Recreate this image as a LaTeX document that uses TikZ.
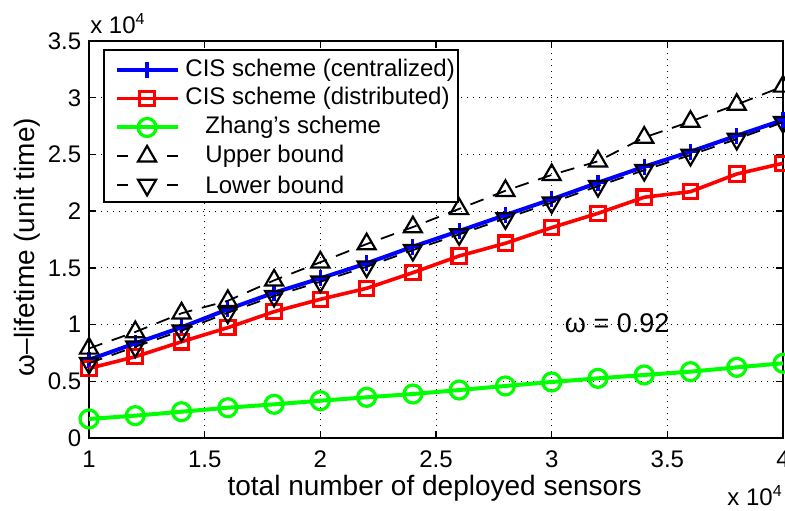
\documentclass[tikz,border=0pt]{standalone}
\usepackage{fontspec}
\setmainfont{Liberation Sans}
\usetikzlibrary{plotmarks}
\tikzset{
  every node/.style={inner sep=0pt, font=\fontsize{12}{14}\selectfont},
  gridline/.style={line width=0.5pt, dash pattern=on 0.6pt off 2.4pt},
  axisline/.style={line width=0.7pt},
  cen/.style={blue, line width=2pt, mark=+, mark size=4pt, mark options={solid, line width=1.6pt}},
  dis/.style={red, line width=1.8pt, mark=square, mark size=3.6pt, mark options={solid, line width=1.6pt}},
  zha/.style={green, line width=2pt, mark=o, mark size=4.5pt, mark options={solid, line width=1.6pt}},
  ub/.style={black, line width=0.9pt, dash pattern=on 7pt off 5pt, mark=triangle, mark size=5.2pt, mark options={solid, line width=1.1pt}},
  lb/.style={black, line width=0.9pt, dash pattern=on 7pt off 5pt, mark=triangle, mark size=5.2pt, mark options={solid, rotate=180, line width=1.1pt}},
  axlab/.style={font=\fontsize{14}{16}\selectfont}
}
\begin{document}
\begin{tikzpicture}[x=115.65pt, y=56.7pt]
  \useasboundingbox (0.6152,-0.635) rectangle (4.0086,3.862);
  % grid
  \foreach \v in {1.5,2,2.5,3,3.5}
    \draw[gridline] (\v,0) -- (\v,3.5);
  \foreach \v in {0.5,1,1.5,2,2.5,3}
    \draw[gridline] (1,\v) -- (4,\v);
  % axes box and ticks
  \draw[axisline] (1,0) rectangle (4,3.5);
  \foreach \v [count=\i] in {1,1.5,2,2.5,3,3.5,4} {
    \draw[axisline] (\v,0) -- ++(0,3.5pt) (\v,3.5) -- ++(0,-3.5pt);
    \node[anchor=base] (xt\i) at (\v,-0.256) {\v};
  }
  \foreach \v [count=\i] in {0,0.5,1,1.5,2,2.5,3,3.5} {
    \draw[axisline] (1,\v) -- ++(3.5pt,0) (4,\v) -- ++(-3.5pt,0);
    \node[anchor=east] (yt\i) at (0.968,\v) {\v};
  }
  \node[anchor=base west] (ymul) at (1.004,3.571) {x 10\textsuperscript{4}};
  \node[anchor=base west] (xmul) at (3.758,-0.591) {x 10\textsuperscript{4}};
  \node[axlab, anchor=base] (xlab) at (2.494,-0.503) {total number of deployed sensors};
  \node[axlab, rotate=90] (ylab) at (0.732,1.684) {ω–lifetime (unit time)};
  % data
  \draw[cen] plot coordinates {(1,0.69) (1.2,0.835) (1.4,0.976) (1.6,1.135) (1.8,1.281) (2,1.408) (2.2,1.54) (2.4,1.687) (2.6,1.825) (2.8,1.966) (3,2.105) (3.2,2.251) (3.4,2.392) (3.6,2.525) (3.8,2.666) (4,2.804)};
  \draw[dis] plot coordinates {(1,0.614) (1.2,0.717) (1.4,0.849) (1.6,0.973) (1.8,1.114) (2,1.223) (2.2,1.32) (2.4,1.458) (2.6,1.605) (2.8,1.717) (3,1.855) (3.2,1.981) (3.4,2.123) (3.6,2.172) (3.8,2.328) (4,2.422)};
  \draw[zha] plot coordinates {(1,0.168) (1.2,0.197) (1.4,0.232) (1.6,0.267) (1.8,0.297) (2,0.329) (2.2,0.359) (2.4,0.388) (2.6,0.423) (2.8,0.459) (3,0.494) (3.2,0.526) (3.4,0.556) (3.6,0.585) (3.8,0.623) (4,0.659)};
  \draw[ub] plot coordinates {(1,0.79) (1.2,0.935) (1.4,1.10) (1.6,1.21) (1.8,1.39) (2,1.55) (2.2,1.71) (2.4,1.86) (2.6,2.02) (2.8,2.18) (3,2.32) (3.2,2.44) (3.4,2.65) (3.6,2.79) (3.8,2.94) (4,3.10)};
  \draw[lb] plot coordinates {(1,0.66) (1.2,0.805) (1.4,0.946) (1.6,1.105) (1.8,1.251) (2,1.378) (2.2,1.51) (2.4,1.657) (2.6,1.795) (2.8,1.936) (3,2.075) (3.2,2.221) (3.4,2.362) (3.6,2.495) (3.8,2.636) (4,2.784)};
  \node[font=\fontsize{13.5}{16}\selectfont, anchor=base] (omega) at (3.283,0.926) {ω = 0.92};
  % legend
  \draw[axisline, fill=white] (1.0649,2.0811) rectangle (2.5953,3.4215);
  \draw[cen, mark indices={2}] plot coordinates {(1.121,3.245) (1.251,3.245) (1.385,3.245)};
  \draw[dis, mark indices={2}] plot coordinates {(1.121,2.992) (1.251,2.992) (1.385,2.992)};
  \draw[zha, mark indices={2}] plot coordinates {(1.121,2.738) (1.251,2.738) (1.385,2.738)};
  \draw[ub, solid] (1.121,2.484) -- (1.169,2.484) (1.337,2.484) -- (1.385,2.484);
  \draw[ub, solid] plot coordinates {(1.251,2.484)};
  \draw[lb, solid] (1.121,2.231) -- (1.169,2.231) (1.337,2.231) -- (1.385,2.231);
  \draw[lb, solid] plot coordinates {(1.251,2.231)};
  \node[anchor=west] (t1) at (1.415,3.245) {CIS scheme (centralized)};
  \node[anchor=west] (t2) at (1.415,2.992) {CIS scheme (distributed)};
  \node[anchor=west] (t3) at (1.5015,2.738) {Zhang’s scheme};
  \node[anchor=west] (t4) at (1.5015,2.484) {Upper bound};
  \node[anchor=west] (t5) at (1.5015,2.231) {Lower bound};
\end{tikzpicture}
\end{document}
